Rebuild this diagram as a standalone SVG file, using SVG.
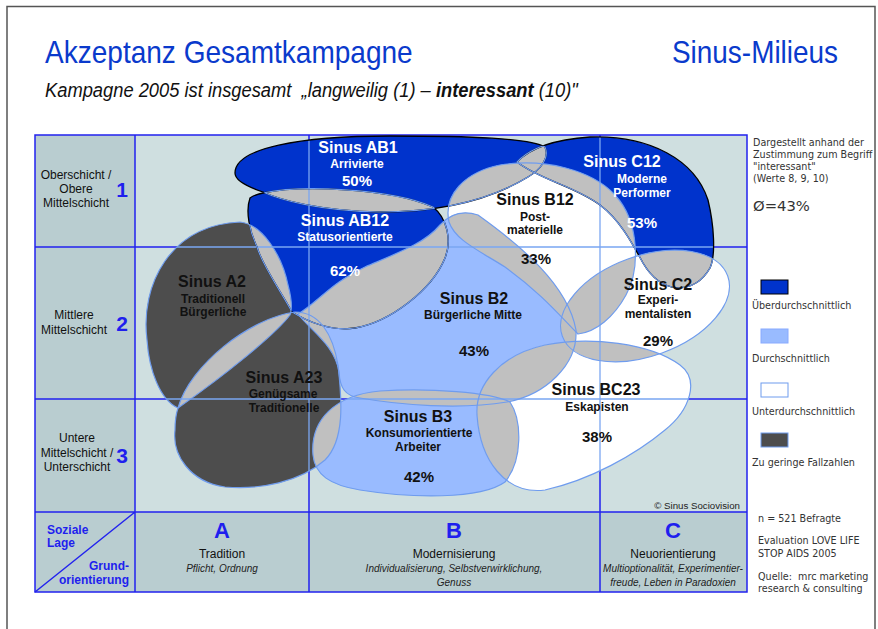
<svg xmlns="http://www.w3.org/2000/svg" width="878" height="629" viewBox="0 0 878 629">
<style>
.lbl{font-family:"Liberation Sans",Arial,sans-serif;font-size:12px;fill:#111;text-anchor:middle}
.num{font-family:"Liberation Sans",Arial,sans-serif;font-size:21px;font-weight:bold;fill:#1f1fee;text-anchor:middle}
.abc{font-family:"Liberation Sans",Arial,sans-serif;font-size:22px;font-weight:bold;fill:#1f1fee;text-anchor:middle}
.sl{font-family:"Liberation Sans",Arial,sans-serif;font-size:12px;font-weight:bold;fill:#1f1fee}
.it{font-family:"Liberation Sans",Arial,sans-serif;font-size:10px;font-style:italic;fill:#222;text-anchor:middle}
.m{font-family:"Liberation Sans",Arial,sans-serif;font-weight:bold;text-anchor:middle}
.mt{font-size:16px}
.ms{font-size:12px}
.mp{font-size:15px}
.w{fill:#fff}
.k{fill:#111}
.ttl{font-family:"Liberation Sans",Arial,sans-serif;font-size:32px;fill:#0a3acc}
.leg{font-family:"DejaVu Sans",Verdana,sans-serif;font-size:9.6px;fill:#333}
.grid{stroke:#2222ee;stroke-width:1.5;fill:none}
.gl{stroke:#7aa6f2;stroke-width:1.3;fill:none}
.ol{fill:none;stroke:#6f9cee;stroke-width:1.2}
.ok{fill:none;stroke:#000;stroke-width:1.3}
.dblue{fill:#0033cc}
.lblue{fill:#99bbff}
.white{fill:#fff}
.dgray{fill:#4d4d4d}
.ov{fill:#c0c0c0}
</style>
<defs>
<path id="p-AB1" d="M235,173 C235,148 300,136 390,136 C470,136 530,138 545,147 C550,158 540,170 528,177 C490,200 440,212 380,212 C320,211 280,200 263,192 C245,186 235,180 235,173 Z"/>
<path id="p-AB12" d="M263,193 C300,185 390,188 433,207 C447,218 452,240 445,258 C432,290 390,322 355,328 C330,332 305,320 292,312 C280,290 262,265 257,247 C250,232 245,212 250,198 C254,195 258,194 263,193 Z"/>
<path id="p-C12" d="M517,162 C528,150 548,140 590,137 C650,135 695,160 708,200 C714,225 716,255 710,268 C702,282 690,288 677,288 C660,286 650,275 643,263 C632,243 620,220 600,205 C575,186 540,180 517,162 Z"/>
<path id="p-B12" d="M449,222 C443,195 465,172 500,165 C545,158 592,170 615,195 C640,222 640,270 626,295 C614,317 596,332 578,334 C562,318 540,292 505,267 C478,250 455,240 449,222 Z"/>
<path id="p-A2" d="M240,222 C262,224 282,255 288,285 C292,300 292,310 290,315 C275,335 225,375 178,408 C160,400 149,370 147,340 C140,285 170,225 240,222 Z"/>
<path id="p-A23" d="M178,408 C190,365 250,318 295,312 C320,312 333,335 338,365 C342,400 345,440 325,460 C300,482 260,490 225,487 C190,482 172,455 175,430 C175,420 176,414 178,408 Z"/>
<path id="p-B2" d="M298,314 C318,302 332,282 365,267 C400,252 425,243 440,225 C450,214 462,210 478,215 C520,245 568,285 576,330 C578,365 545,395 507,402 C460,410 400,405 360,398 C345,396 340,388 339,372 C335,345 310,330 298,314 Z"/>
<path id="p-B3" d="M313,455 C310,420 335,395 380,391 C430,388 490,392 510,402 C522,420 523,460 505,482 C480,500 410,498 360,490 C330,485 315,475 313,455 Z"/>
<path id="p-BC23" d="M477,415 C475,385 500,355 545,345 C590,336 650,343 680,365 C700,380 690,410 665,430 C635,455 590,480 545,490 C505,495 480,460 477,415 Z"/>
<ellipse id="p-C2" cx="0" cy="0" rx="88" ry="50" transform="translate(645,306) rotate(-20)"/>
<clipPath id="c-AB1"><use href="#p-AB1"/></clipPath>
<clipPath id="c-AB12"><use href="#p-AB12"/></clipPath>
<clipPath id="c-C12"><use href="#p-C12"/></clipPath>
<clipPath id="c-B12"><use href="#p-B12"/></clipPath>
<clipPath id="c-A2"><use href="#p-A2"/></clipPath>
<clipPath id="c-A23"><use href="#p-A23"/></clipPath>
<clipPath id="c-B2"><use href="#p-B2"/></clipPath>
<clipPath id="c-B3"><use href="#p-B3"/></clipPath>
<clipPath id="c-BC23"><use href="#p-BC23"/></clipPath>
<clipPath id="c-C2"><use href="#p-C2"/></clipPath>
<clipPath id="c-all"><use href="#p-AB1"/><use href="#p-AB12"/><use href="#p-C12"/><use href="#p-B12"/><use href="#p-A2"/><use href="#p-A23"/><use href="#p-B2"/><use href="#p-B3"/><use href="#p-BC23"/><use href="#p-C2"/></clipPath>
<clipPath id="c-nAB1"><use href="#p-AB12"/><use href="#p-C12"/><use href="#p-B12"/></clipPath>
<clipPath id="c-nAB12"><use href="#p-AB1"/><use href="#p-A2"/><use href="#p-A23"/><use href="#p-B2"/><use href="#p-B12"/></clipPath>
<clipPath id="c-nC12"><use href="#p-AB1"/><use href="#p-B12"/><use href="#p-C2"/></clipPath>
</defs>

<rect width="878" height="629" fill="#fff"/>
<path d="M7,629 V6.5 H875 V629" fill="none" stroke="#555" stroke-width="1.5"/>

<g id="header">
<text class="ttl" transform="translate(45,63) scale(0.876,1)" x="0" y="0">Akzeptanz Gesamtkampagne</text>
<text class="ttl" transform="translate(838,63) scale(0.873,1)" x="0" y="0" text-anchor="end">Sinus-Milieus</text>
<text transform="translate(45,97) scale(0.94,1)" x="0" y="0" font-family="'Liberation Sans',Arial,sans-serif" font-size="19.5" font-style="italic" fill="#111">Kampagne 2005 ist insgesamt &#160;„langweilig (1) – <tspan font-weight="bold">interessant</tspan> (10)"</text>
</g>

<g id="grid">
<rect x="35" y="135" width="100" height="377" fill="#b9cdd0"/>
<rect x="35" y="512" width="712" height="80" fill="#b9cdd0"/>
<rect x="135" y="135" width="612" height="377" fill="#cfdfe0"/>
<rect x="35" y="135" width="712" height="457" class="grid"/>
<path class="grid" d="M135,135 V592 M309,135 V592 M600,135 V592 M35,247 H747 M35,399 H747 M35,512 H747 M35,592 L135,512"/>
</g>

<g id="milieus">
<use id="node-AB1" href="#p-AB1" class="dblue"/>
<use id="node-AB12" href="#p-AB12" class="dblue"/>
<use id="node-C12" href="#p-C12" class="dblue"/>
<use id="node-B12" href="#p-B12" class="white"/>
<use id="node-A2" href="#p-A2" class="dgray"/>
<use id="node-A23" href="#p-A23" class="dgray"/>
<use id="node-B2" href="#p-B2" class="lblue"/>
<use id="node-B3" href="#p-B3" class="lblue"/>
<use id="node-BC23" href="#p-BC23" class="white"/>
<use id="node-C2" href="#p-C2" class="white"/>
</g>

<g id="overlaps" class="ov">
<use href="#p-AB12" clip-path="url(#c-AB1)"/>
<use href="#p-B12" clip-path="url(#c-AB1)"/>
<use href="#p-C12" clip-path="url(#c-AB1)"/>
<use href="#p-A2" clip-path="url(#c-AB12)"/>
<use href="#p-B2" clip-path="url(#c-AB12)"/>
<use href="#p-B12" clip-path="url(#c-AB12)"/>
<use href="#p-A23" clip-path="url(#c-AB12)"/>
<use href="#p-A23" clip-path="url(#c-A2)"/>
<use href="#p-B2" clip-path="url(#c-A2)"/>
<use href="#p-B2" clip-path="url(#c-A23)"/>
<use href="#p-B3" clip-path="url(#c-A23)"/>
<use href="#p-B3" clip-path="url(#c-B2)"/>
<use href="#p-B12" clip-path="url(#c-B2)"/>
<use href="#p-BC23" clip-path="url(#c-B2)"/>
<use href="#p-C2" clip-path="url(#c-B2)"/>
<use href="#p-BC23" clip-path="url(#c-B3)"/>
<use href="#p-C12" clip-path="url(#c-B12)"/>
<use href="#p-C2" clip-path="url(#c-B12)"/>
<use href="#p-BC23" clip-path="url(#c-B12)"/>
<use href="#p-C2" clip-path="url(#c-C12)"/>
<use href="#p-C2" clip-path="url(#c-BC23)"/>
</g>

<g id="grid-over" class="gl" clip-path="url(#c-all)">
<path d="M309,135 V512 M600,135 V512 M135,247 H747 M135,399 H747"/>
</g>

<g id="outlines">
<use href="#p-AB1" class="ok"/>
<use href="#p-AB12" class="ok"/>
<use href="#p-C12" class="ok"/>
<use href="#p-AB1" class="ol" clip-path="url(#c-nAB1)"/>
<use href="#p-AB12" class="ol" clip-path="url(#c-nAB12)"/>
<use href="#p-C12" class="ol" clip-path="url(#c-nC12)"/>
<use href="#p-B12" class="ol"/>
<use href="#p-A2" class="ol"/>
<use href="#p-A23" class="ol"/>
<use href="#p-B2" class="ol"/>
<use href="#p-B3" class="ol"/>
<use href="#p-BC23" class="ol"/>
<use href="#p-C2" class="ol"/>
</g>

<g id="labels" class="m">
<g id="label-AB1" class="w"><text x="358" y="153" class="mt">Sinus AB1</text><text x="357" y="168" class="ms">Arrivierte</text><text x="357" y="186" class="mp">50%</text></g>
<g id="label-AB12" class="w"><text x="345" y="226" class="mt">Sinus AB12</text><text x="345" y="241" class="ms">Statusorientierte</text><text x="345" y="276" class="mp">62%</text></g>
<g id="label-C12" class="w"><text x="622" y="167" class="mt">Sinus C12</text><text x="642" y="183" class="ms">Moderne</text><text x="642" y="197" class="ms">Performer</text><text x="642" y="228" class="mp">53%</text></g>
<g id="label-B12" class="k"><text x="535" y="205" class="mt">Sinus B12</text><text x="535" y="221" class="ms">Post-</text><text x="535" y="234" class="ms">materielle</text><text x="536" y="264" class="mp">33%</text></g>
<g id="label-A2" class="k"><text x="212" y="287" class="mt">Sinus A2</text><text x="213" y="303" class="ms">Traditionell</text><text x="213" y="316" class="ms">Bürgerliche</text></g>
<g id="label-B2" class="k"><text x="474" y="304" class="mt">Sinus B2</text><text x="473" y="319" class="ms">Bürgerliche Mitte</text><text x="474" y="356" class="mp">43%</text></g>
<g id="label-C2" class="k"><text x="658" y="290" class="mt">Sinus C2</text><text x="658" y="304" class="ms">Experi-</text><text x="658" y="318" class="ms">mentalisten</text><text x="658" y="346" class="mp">29%</text></g>
<g id="label-A23" class="k"><text x="284" y="383" class="mt">Sinus A23</text><text x="283" y="398" class="ms">Genügsame</text><text x="284" y="412" class="ms">Traditionelle</text></g>
<g id="label-B3" class="k"><text x="418" y="422" class="mt">Sinus B3</text><text x="419" y="437" class="ms">Konsumorientierte</text><text x="418" y="451" class="ms">Arbeiter</text><text x="419" y="482" class="mp">42%</text></g>
<g id="label-BC23" class="k"><text x="596" y="395" class="mt">Sinus BC23</text><text x="597" y="411" class="ms">Eskapisten</text><text x="597" y="442" class="mp">38%</text></g>
</g>

<g id="axis-rows">
<text class="lbl" x="76" y="179">Oberschicht /</text><text class="lbl" x="76" y="193">Obere</text><text class="lbl" x="76" y="207">Mittelschicht</text>
<text class="num" x="122" y="197">1</text>
<text class="lbl" x="74" y="319">Mittlere</text><text class="lbl" x="74" y="334">Mittelschicht</text>
<text class="num" x="122" y="331">2</text>
<text class="lbl" x="77" y="442">Untere</text><text class="lbl" x="77" y="457">Mittelschicht /</text><text class="lbl" x="77" y="471">Unterschicht</text>
<text class="num" x="122" y="463">3</text>
</g>

<g id="axis-cols">
<text class="sl" x="47" y="534">Soziale</text><text class="sl" x="47" y="547">Lage</text>
<text class="sl" x="129" y="570" text-anchor="end">Grund-</text><text class="sl" x="129" y="584" text-anchor="end">orientierung</text>
<text class="abc" x="222" y="538">A</text>
<text class="lbl" x="222" y="558">Tradition</text>
<text class="it" x="222" y="572">Pflicht, Ordnung</text>
<text class="abc" x="454" y="538">B</text>
<text class="lbl" x="454" y="558">Modernisierung</text>
<text class="it" x="454" y="572">Individualisierung, Selbstverwirklichung,</text>
<text class="it" x="454" y="586">Genuss</text>
<text class="abc" x="673" y="538">C</text>
<text class="lbl" x="673" y="558">Neuorientierung</text>
<text class="it" x="673" y="572">Multioptionalität, Experimentier-</text>
<text class="it" x="673" y="586">freude, Leben in Paradoxien</text>
<text x="740" y="509" font-family="'Liberation Sans',Arial,sans-serif" font-size="9.7" fill="#222" text-anchor="end">© Sinus Sociovision</text>
</g>

<g id="legend" class="leg">
<text x="753" y="146">Dargestellt anhand der</text>
<text x="753" y="158">Zustimmung zum Begriff</text>
<text x="753" y="170">"interessant"</text>
<text x="753" y="182">(Werte 8, 9, 10)</text>
<text x="753" y="211" font-size="14.8">Ø=43%</text>
<rect x="761" y="280" width="27" height="14" fill="#0033cc" stroke="#000" stroke-width="1"/>
<text x="752" y="309">Überdurchschnittlich</text>
<rect x="761" y="329" width="27" height="14" fill="#99bbff" stroke="#88aaff" stroke-width="1"/>
<text x="752" y="362">Durchschnittlich</text>
<rect x="761" y="383" width="27" height="14" fill="#fff" stroke="#6f9cee" stroke-width="1"/>
<text x="752" y="415">Unterdurchschnittlich</text>
<rect x="761" y="433" width="27" height="14" fill="#4d4d4d" stroke="#6f9cee" stroke-width="1"/>
<text x="752" y="466">Zu geringe Fallzahlen</text>
<text x="758" y="522">n = 521 Befragte</text>
<text x="758" y="544">Evaluation LOVE LIFE</text>
<text x="758" y="557">STOP AIDS 2005</text>
<text x="758" y="580">Quelle: &#160;mrc marketing</text>
<text x="758" y="592">research &amp; consulting</text>
</g>
</svg>
